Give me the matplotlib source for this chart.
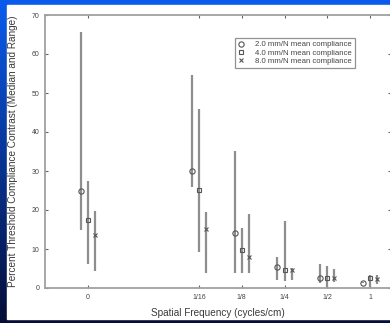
import numpy as np
import matplotlib
matplotlib.use("Agg")
import matplotlib.pyplot as plt
from matplotlib.patches import Rectangle

plt.rcParams['font.family'] = ['Liberation Sans', 'DejaVu Sans']

# spatial frequency categories (cycles/cm)
freqs = [0, 1/16, 1/8, 1/4, 1/2, 1]
freq_labels = ["0", "1/16", "1/8", "1/4", "1/2", "1"]

# median and range per compliance level
med_2 = [24.8, 30.0, 14.0, 5.5, 2.5, 1.4]
lo_2 = [15.0, 25.8, 3.9, 2.0, 1.2, 1.2]
hi_2 = [65.6, 54.6, 35.2, 8.0, 6.1, 1.6]

med_4 = [17.4, 25.1, 9.7, 4.6, 2.6, 2.5]
lo_4 = [6.2, 9.3, 3.9, 1.8, 0.3, 0.3]
hi_4 = [27.4, 45.8, 15.3, 17.2, 5.6, 3.3]

med_8 = [13.6, 15.1, 7.9, 4.6, 2.5, 2.2]
lo_8 = [4.4, 3.9, 3.9, 2.0, 1.6, 1.0]
hi_8 = [19.8, 19.6, 19.0, 5.2, 4.9, 3.3]

series_labels = ["2.0 mm/N mean compliance",
                 "4.0 mm/N mean compliance",
                 "8.0 mm/N mean compliance"]

# log2 axis, the zero frequency sits a bit left of 1/16
pos = np.array([np.log2(f) if f > 0 else np.log2(1/16) - 2.6 for f in freqs])
offset = 0.165

fig = plt.figure(figsize=(3.9, 3.23), dpi=100)

# blue slide background with white panel
bg = fig.add_axes([0, 0, 1, 1])
grad = np.linspace(0, 1, 256)[:, None]
top_c = np.array([0.04, 0.36, 0.93])
bot_c = np.array([0.02, 0.05, 0.22])
img = top_c[None, None, :] * (1 - grad[:, :, None]) + bot_c[None, None, :] * grad[:, :, None]
bg.imshow(img, aspect='auto', extent=[0, 1, 0, 1])
bg.add_patch(Rectangle((7/390, 4/323), 1, 1 - 9/323, color='white'))
bg.set_xlim(0, 1)
bg.set_ylim(0, 1)
bg.axis('off')

ax = fig.add_axes([45/390, 35/323, 346/390, 273/323])
ax.set_facecolor('white')

bar_c = '#8e8e8e'
mk_c = '#555555'
styles = [('o', 3.8, -offset), ('s', 3.2, 0.0), ('x', 2.2, offset)]

for (m, ms, dx), med, lo, hi, lab in zip(styles, [med_2, med_4, med_8],
                                          [lo_2, lo_4, lo_8], [hi_2, hi_4, hi_8],
                                          series_labels):
    med = np.array(med)
    yerr = [med - np.array(lo), np.array(hi) - med]
    ax.errorbar(pos + dx, med, yerr=yerr, fmt='none', ecolor=bar_c,
                elinewidth=1.6, capsize=0)
    ax.plot(pos + dx, med, linestyle='none', marker=m, markersize=ms,
            markerfacecolor='none', markeredgecolor=mk_c, markeredgewidth=0.8,
            label=lab)

ax.set_xlim(-7.6, 0.49)
ax.set_ylim(0, 70)
ax.set_xticks(pos)
ax.set_xticklabels(freq_labels)
ax.set_yticks(np.arange(0, 71, 10))

ax.tick_params(direction='in', length=2.5, width=0.8, color='#666666',
               labelsize=5, labelcolor='#444444', top=True, right=True, pad=4)
for s in ax.spines.values():
    s.set_color('#a0a0a0')
    s.set_linewidth(1.3)

ax.set_xlabel("Spatial Frequency (cycles/cm)", fontsize=7.2, color='#3a3a3a',
              labelpad=5)
ax.set_ylabel("Percent Threshold Compliance Contrast (Median and Range)",
              fontsize=7.2, color='#3a3a3a', labelpad=10)

leg = ax.legend(loc='upper left', bbox_to_anchor=(0.548, 0.915), fontsize=5.6,
                frameon=True, fancybox=False, edgecolor='#777777',
                borderpad=0.35, handletextpad=1.3, handlelength=1.0,
                labelspacing=0.12, borderaxespad=0)
leg.get_frame().set_linewidth(0.9)
for t in leg.get_texts():
    t.set_color('#444444')

fig.savefig("out.png", dpi=100)
